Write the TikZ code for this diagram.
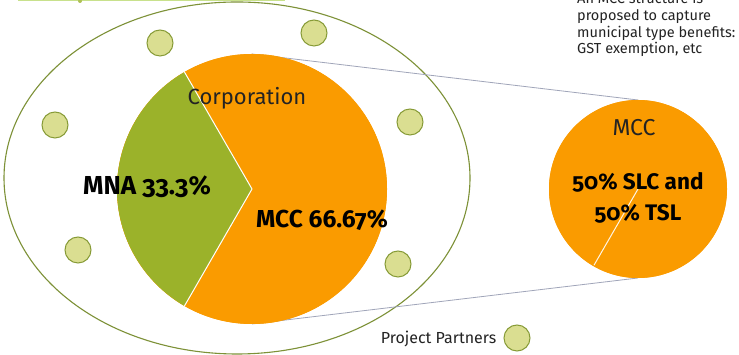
\documentclass[tikz,border=0pt]{standalone}
\usepackage{fontspec}
\usetikzlibrary{shapes.geometric,calc}
\setmainfont{Fira Sans}[Numbers=OldStyle]
\definecolor{pieorange}{RGB}{250,155,0}
\definecolor{piegreen}{RGB}{155,178,42}
\definecolor{dotfill}{RGB}{218,222,145}
\definecolor{dotedge}{RGB}{135,155,55}
\definecolor{ellipseedge}{RGB}{125,145,55}
\definecolor{zoomline}{RGB}{160,165,185}
\definecolor{titlegreen}{RGB}{200,225,140}
\definecolor{txt}{RGB}{35,35,35}
\begin{document}
\begin{tikzpicture}[x=1pt,y=1pt,
  partner/.style={circle,fill=dotfill,draw=dotedge,line width=1pt,minimum size=26pt,inner sep=0pt},
  piebase/.style={circle,fill=pieorange,inner sep=0pt,outer sep=0pt},
  reglabel/.style={text=txt,inner sep=0pt},
  boldlabel/.style={text=black,inner sep=0pt}]
\useasboundingbox (0,0) rectangle (739,355);
\clip (0,0) rectangle (739,355);
\fill[white] (0,0) rectangle (739,355);
% title remnant
\draw[titlegreen,line width=1.5pt] (18,354.5) -- (285,354.5);
\fill[piegreen!80] (80,354) circle (2);
% big ellipse
\node[draw=ellipseedge,line width=1.1pt,ellipse,minimum width=466pt,minimum height=352pt,inner sep=0pt] (group) at (237,177) {};
% pies
\node[piebase,minimum size=270pt] (bigpie) at (252,166) {};
\node[piebase,minimum size=178pt] (smallpie) at (638,166) {};
% zoom lines
\draw[zoomline,line width=0.8pt] (bigpie.north) -- (smallpie.north);
\draw[zoomline,line width=0.8pt] (bigpie.south) -- (smallpie.south);
\fill[pieorange] (bigpie.center) circle (135);
\fill[pieorange] (smallpie.center) circle (89);
\fill[piegreen] (bigpie.center) -- ++(120:135) arc (120:240:135) -- cycle;
\draw[white,line width=1pt] (bigpie.center) -- ++(120:135);
\draw[white,line width=1pt] (bigpie.center) -- ++(240:135);
\draw[white!90!pieorange,line width=1pt] (smallpie.center) -- ++(240:88);
% partners
\node[partner] (p1) at (160,312) {};
\node[partner] (p2) at (314,322) {};
\node[partner] (p3) at (55,230) {};
\node[partner] (p4) at (410,233) {};
\node[partner] (p5) at (78,105) {};
\node[partner] (p6) at (398,91) {};
\node[partner] (pl) at (517,17) {};
% labels
\node[reglabel,font=\fontsize{22}{26}\selectfont] (corp) at (247,257) {Corporation};
\node[boldlabel,font=\fontsize{26}{30}\selectfont\bfseries] (mna) at (147,168) {MNA 33.3\%};
\node[boldlabel,font=\fontsize{24.5}{28}\selectfont\bfseries] (mcc) at (322,135) {MCC 66.67\%};
\node[reglabel,font=\fontsize{23}{26}\selectfont] (mccs) at (634,227) {MCC};
\node[boldlabel,font=\fontsize{22.5}{31}\selectfont\bfseries,align=center] (split) at (638,157) {50\% SLC and\\50\% TSL};
\node[reglabel,font=\fontsize{16}{19}\selectfont,anchor=east] (pp) at ($(pl.west)+(-7,-1)$) {Project Partners};
\node[reglabel,font=\fontsize{14.5}{16.7}\selectfont,align=left,anchor=south west] (note) at (577,298) {An MCC structure is\\proposed to capture\\municipal type benefits:\\GST exemption, etc};
\end{tikzpicture}
\end{document}
